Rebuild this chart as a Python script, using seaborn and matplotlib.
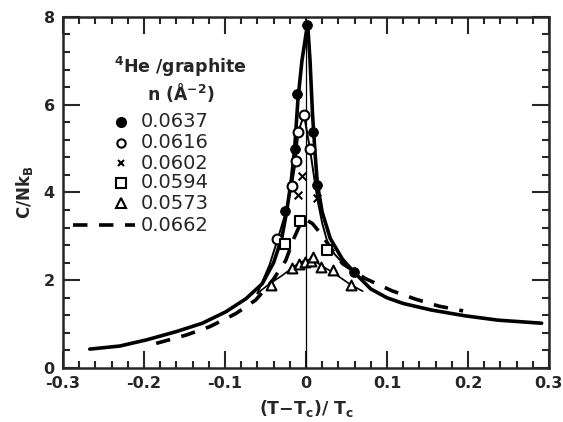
import matplotlib
matplotlib.use("Agg")
import matplotlib.pyplot as plt
import seaborn as sns
import numpy as np
from matplotlib.ticker import FixedLocator, MultipleLocator

# ---- data ----
main_x = [-0.267, -0.230, -0.197, -0.160, -0.128, -0.099, -0.074, -0.054, -0.040, -0.030,
          -0.024, -0.018, -0.014, -0.010, -0.005, 0.002, 0.005, 0.008, 0.011, 0.014,
          0.020, 0.030, 0.045, 0.059, 0.080, 0.100, 0.120, 0.155, 0.196, 0.237, 0.291]
main_y = [0.43, 0.50, 0.64, 0.83, 1.02, 1.28, 1.58, 1.92, 2.40, 2.95,
          3.55, 4.30, 5.00, 6.10, 7.00, 7.85, 7.00, 5.80, 4.95, 4.20,
          3.55, 2.95, 2.48, 2.19, 1.80, 1.60, 1.47, 1.32, 1.19, 1.09, 1.02]

b_x = [-0.060, -0.045, -0.035, -0.025, -0.0176, -0.0127, -0.0095, -0.0025, 0.005,
       0.010, 0.014, 0.020, 0.026, 0.035, 0.045, 0.059]
b_y = [1.70, 2.35, 2.93, 3.55, 4.14, 4.71, 5.38, 5.77, 4.98,
       4.35, 3.85, 3.30, 2.90, 2.60, 2.40, 2.19]

c_x = [-0.060, -0.045, -0.030, -0.017, -0.008, 0.002, 0.010, 0.020, 0.033, 0.055, 0.070]
c_y = [1.70, 1.92, 2.10, 2.28, 2.40, 2.47, 2.45, 2.32, 2.18, 1.90, 1.75]

dash_x = [-0.185, -0.148, -0.119, -0.0865, -0.062, -0.041, -0.025, -0.015, -0.007, 0.000,
          0.008, 0.020, 0.030, 0.045, 0.073, 0.106, 0.135, 0.164, 0.194]
dash_y = [0.56, 0.75, 0.94, 1.24, 1.55, 2.00, 2.45, 2.95, 3.28, 3.38,
          3.29, 3.02, 2.75, 2.38, 2.04, 1.76, 1.57, 1.41, 1.30]

n0637_x = [-0.0258, -0.0139, -0.0107, 0.0016, 0.009, 0.0139, 0.059]
n0637_y = [3.58, 4.98, 6.25, 7.82, 5.38, 4.18, 2.19]
n0616_x = [-0.0353, -0.0176, -0.0127, -0.0095, -0.0025, 0.005]
n0616_y = [2.93, 4.14, 4.71, 5.38, 5.77, 4.98]
n0602_x = [-0.0095, -0.0046, 0.0139]
n0602_y = [3.95, 4.37, 3.88]
n0594_x = [-0.0258, -0.0075, 0.026]
n0594_y = [2.82, 3.36, 2.68]
n0573_x = [-0.0434, -0.0168, -0.0086, -0.0016, 0.0058, 0.0090, 0.018, 0.033, 0.055]
n0573_y = [1.90, 2.27, 2.38, 2.42, 2.43, 2.53, 2.29, 2.24, 1.89]

legend_labels = ["0.0637", "0.0616", "0.0602", "0.0594", "0.0573", "0.0662"]
x_ticks = [-0.3, -0.2, -0.1, 0.0, 0.1, 0.2, 0.3]
x_ticklabels = ["-0.3", "-0.2", "-0.1", "0", "0.1", "0.2", "0.3"]
y_ticks = [0, 2, 4, 6, 8]
y_ticklabels = ["0", "2", "4", "6", "8"]

# ---- style ----
sns.set_style("ticks")
plt.rcParams['font.family'] = ['DejaVu Sans']
plt.rcParams['font.weight'] = 'bold'
plt.rcParams['mathtext.default'] = 'bf'

fig = plt.figure(figsize=(5.63, 4.22), dpi=100)
ax = fig.add_axes([0.112, 0.128, 0.863, 0.832])

ax.axvline(0, color='black', lw=0.9, zorder=1)

sns.lineplot(x=main_x, y=main_y, ax=ax, color='black', lw=2.6, sort=False, estimator=None)
sns.lineplot(x=b_x, y=b_y, ax=ax, color='black', lw=1.4, sort=False, estimator=None)
sns.lineplot(x=c_x, y=c_y, ax=ax, color='black', lw=1.2, sort=False, estimator=None)
sns.lineplot(x=dash_x, y=dash_y, ax=ax, color='black', lw=2.6, sort=False, estimator=None,
             dashes=False, linestyle=(0, (4, 3.2)))

ms = 50
sns.scatterplot(x=n0637_x, y=n0637_y, ax=ax, marker='o', s=ms, color='black',
                edgecolor='black', zorder=5)
sns.scatterplot(x=n0616_x, y=n0616_y, ax=ax, marker='o', s=ms, facecolor='white',
                edgecolor='black', linewidth=1.5, zorder=5)
sns.scatterplot(x=n0602_x, y=n0602_y, ax=ax, marker='x', s=30, color='black',
                linewidth=1.5, zorder=5)
sns.scatterplot(x=n0594_x, y=n0594_y, ax=ax, marker='s', s=ms, facecolor='white',
                edgecolor='black', linewidth=1.5, zorder=5)
sns.scatterplot(x=n0573_x, y=n0573_y, ax=ax, marker='^', s=ms, facecolor='white',
                edgecolor='black', linewidth=1.5, zorder=5)

ax.set_xlim(-0.3, 0.3)
ax.set_ylim(0, 8)
ax.xaxis.set_major_locator(FixedLocator(x_ticks))
ax.set_xticklabels(x_ticklabels)
ax.xaxis.set_minor_locator(MultipleLocator(0.02))
ax.yaxis.set_major_locator(FixedLocator(y_ticks))
ax.set_yticklabels(y_ticklabels)
ax.yaxis.set_minor_locator(MultipleLocator(0.4))
ax.tick_params(which='both', direction='in', top=True, right=True, width=1.5,
               labelsize=11.5, pad=6)
ax.tick_params(which='major', length=12)
ax.tick_params(which='minor', length=5)
for sp in ax.spines.values():
    sp.set_linewidth(1.8)

ax.set_xlabel("(T$-$T$_c$)/ T$_c$", fontsize=12.5, fontweight='bold', labelpad=5)
ax.set_ylabel("C/Nk$_B$", fontsize=12, fontweight='bold', labelpad=6)

# ---- legend drawn inside the axes ----
ax.text(0.105, 0.858, "$^4$He /graphite", transform=ax.transAxes, fontsize=12.5,
        ha='left', va='center', fontweight='bold')
ax.text(0.172, 0.786, "n (Å$^{-2}$)", transform=ax.transAxes, fontsize=12.5,
        ha='left', va='center', fontweight='bold')
rows_y = [0.702, 0.642, 0.583, 0.528, 0.469, 0.407]
mk = [dict(marker='o', mfc='black', mec='black', ms=7),
      dict(marker='o', mfc='white', mec='black', ms=6, mew=1.5),
      dict(marker='x', mfc='black', mec='black', ms=5, mew=1.5),
      dict(marker='s', mfc='white', mec='black', ms=7, mew=1.5),
      dict(marker='^', mfc='white', mec='black', ms=7, mew=1.5)]
for yy, lab, m in zip(rows_y[:5], legend_labels[:5], mk):
    ax.plot([0.119], [yy], transform=ax.transAxes, ls='none', **m)
    ax.text(0.16, yy, lab, transform=ax.transAxes, fontsize=14, ha='left',
            va='center', fontweight='normal')
ax.plot([0.02, 0.148], [rows_y[5], rows_y[5]], transform=ax.transAxes, color='black',
        lw=2.6, linestyle=(0, (4, 3.2)))
ax.text(0.16, rows_y[5], legend_labels[5], transform=ax.transAxes, fontsize=14,
        ha='left', va='center', fontweight='normal')

fig.savefig("out.png", dpi=100)
